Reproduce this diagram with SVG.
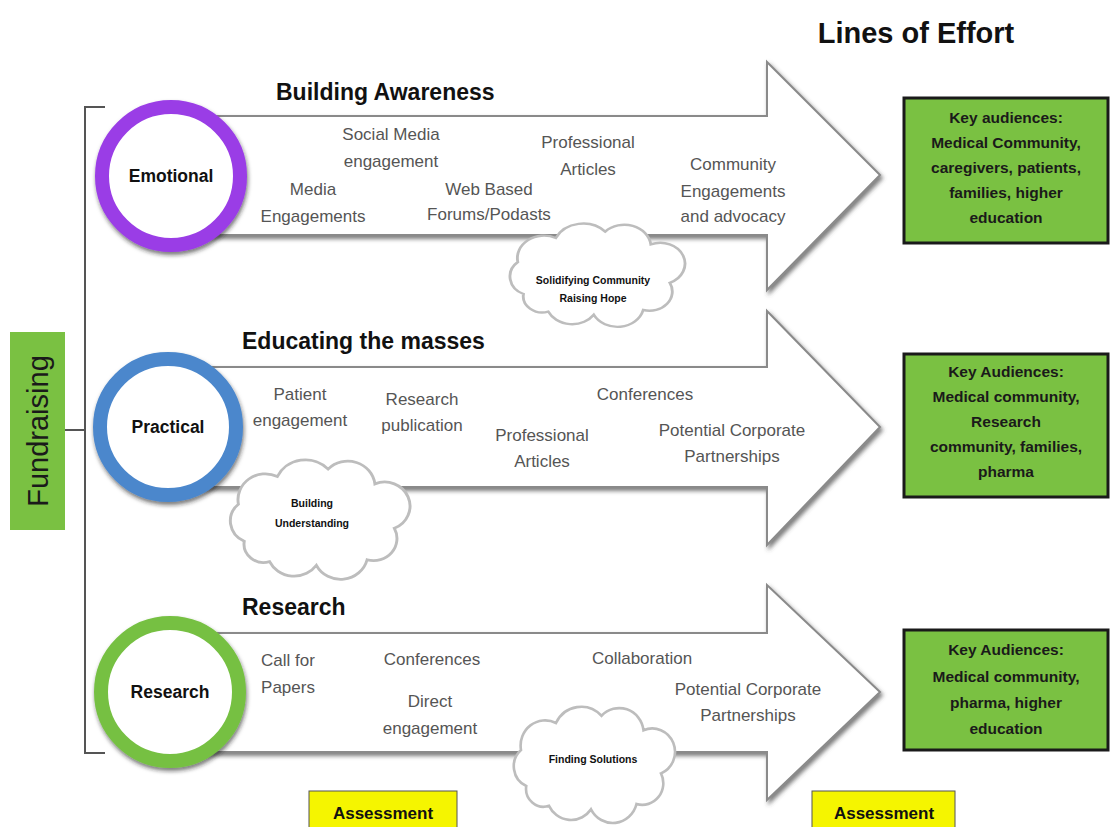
<svg xmlns="http://www.w3.org/2000/svg" width="1112" height="827" viewBox="0 0 1112 827">
<defs>
<filter id="sh" x="-10%" y="-10%" width="125%" height="125%">
<feDropShadow dx="2" dy="3" stdDeviation="2" flood-color="#444" flood-opacity="0.7"/>
</filter>
<filter id="rs" x="-20%" y="-20%" width="140%" height="140%">
<feDropShadow dx="1" dy="3" stdDeviation="2" flood-color="#222" flood-opacity="0.6"/>
</filter>
<path id="cloud" d="M15 45 A12 12 0 0 1 12 25 A14 14 0 0 1 32 10 A16 16 0 0 1 58 6 A14 14 0 0 1 82 14 A13 13 0 0 1 92 38 A12 12 0 0 1 78 55 A14 14 0 0 1 52 58 A14 14 0 0 1 28 56 A10 10 0 0 1 15 45 Z"/>
</defs>
<style>
.arrow{fill:#fff;stroke:#8a8a8a;stroke-width:2;filter:url(#sh)}
.cloud{fill:#fff;stroke:#bdbdbd;stroke-width:1.5}
.ring{fill:#fff;stroke-width:14;filter:url(#rs)}
.head{font-family:"Liberation Sans",Arial,sans-serif;font-weight:bold;font-size:23px;fill:#111}
.item{font-family:"Liberation Sans",Arial,sans-serif;font-size:17px;fill:#555;text-anchor:middle}
.cl{font-family:"Liberation Sans",Arial,sans-serif;font-weight:bold;font-size:10.5px;fill:#111;text-anchor:middle}
.lbl{font-family:"Liberation Sans",Arial,sans-serif;font-weight:bold;font-size:17.5px;fill:#111;text-anchor:middle}
.key{fill:#7ac142;stroke:#1a1a1a;stroke-width:3}
.kt{font-family:"Liberation Sans",Arial,sans-serif;font-weight:bold;font-size:15.5px;fill:#1a1a1a;text-anchor:middle}
.as{fill:#f5f500;stroke:#555;stroke-width:1}
.at{font-family:"Liberation Sans",Arial,sans-serif;font-weight:bold;font-size:17px;fill:#111;text-anchor:middle}
.br{fill:none;stroke:#555;stroke-width:2}
</style>
<rect width="1112" height="827" fill="#fff"/>
<text x="916" y="43" font-family="Liberation Sans,Arial,sans-serif" font-weight="bold" font-size="29" fill="#111" text-anchor="middle">Lines of Effort</text>

<g id="connectors">
<path class="br" d="M105 107 H85 V753 H105 M85 430 H65"/>
</g>

<g id="fundraising">
<rect x="10" y="332" width="55" height="198" fill="#7ac142"/>
<text transform="translate(48 431) rotate(-90)" font-family="Liberation Sans,Arial,sans-serif" font-size="29" fill="#1a1a1a" text-anchor="middle">Fundraising</text>
</g>

<g id="arrow-awareness">
<path class="arrow" d="M170 116 H767 V62 L880 175 L767 290 V235 H170 Z"/>
<text class="head" x="276" y="100">Building Awareness</text>
<text class="item" x="391" y="140">Social Media</text>
<text class="item" x="391" y="167">engagement</text>
<text class="item" x="313" y="195">Media</text>
<text class="item" x="313" y="222">Engagements</text>
<text class="item" x="489" y="195">Web Based</text>
<text class="item" x="489" y="220">Forums/Podasts</text>
<text class="item" x="588" y="148">Professional</text>
<text class="item" x="588" y="175">Articles</text>
<text class="item" x="733" y="170">Community</text>
<text class="item" x="733" y="197">Engagements</text>
<text class="item" x="733" y="222">and advocacy</text>
</g>

<g id="arrow-educating">
<path class="arrow" d="M170 367 H767 V311 L880 427 L767 545 V487 H170 Z"/>
<text class="head" x="242" y="349">Educating the masses</text>
<text class="item" x="300" y="400">Patient</text>
<text class="item" x="300" y="426">engagement</text>
<text class="item" x="422" y="405">Research</text>
<text class="item" x="422" y="431">publication</text>
<text class="item" x="542" y="441">Professional</text>
<text class="item" x="542" y="467">Articles</text>
<text class="item" x="645" y="400">Conferences</text>
<text class="item" x="732" y="436">Potential Corporate</text>
<text class="item" x="732" y="462">Partnerships</text>
</g>

<g id="arrow-research">
<path class="arrow" d="M170 633 H767 V585 L880 692 L767 800 V752 H170 Z"/>
<text class="head" x="242" y="615">Research</text>
<text class="item" x="288" y="666">Call for</text>
<text class="item" x="288" y="693">Papers</text>
<text class="item" x="432" y="665">Conferences</text>
<text class="item" x="430" y="707">Direct</text>
<text class="item" x="430" y="734">engagement</text>
<text class="item" x="642" y="664">Collaboration</text>
<text class="item" x="748" y="695">Potential Corporate</text>
<text class="item" x="748" y="721">Partnerships</text>
</g>

<g id="cloud-hope">
<use href="#cloud" class="cloud" transform="translate(495 222) scale(1.9 1.6)"/>
<text class="cl" x="593" y="284">Solidifying Community</text>
<text class="cl" x="593" y="302">Raising Hope</text>
</g>

<g id="cloud-understanding">
<use href="#cloud" class="cloud" transform="translate(215 458) scale(1.95 1.85)"/>
<text class="cl" x="312" y="507">Building</text>
<text class="cl" x="312" y="527">Understanding</text>
</g>

<g id="cloud-solutions">
<use href="#cloud" class="cloud" transform="translate(500 705) scale(1.75 1.8)"/>
<text class="cl" x="593" y="763">Finding Solutions</text>
</g>

<g id="node-emotional">
<circle class="ring" cx="171" cy="176" r="69" stroke="#9a3de6"/>
<text class="lbl" x="171" y="182">Emotional</text>
</g>
<g id="node-practical">
<circle class="ring" cx="168" cy="427" r="68" stroke="#4b87cc"/>
<text class="lbl" x="168" y="433">Practical</text>
</g>
<g id="node-research">
<circle class="ring" cx="170" cy="692" r="69" stroke="#76c043"/>
<text class="lbl" x="170" y="698">Research</text>
</g>

<g id="key-1">
<rect class="key" x="904" y="98" width="204" height="145"/>
<text class="kt" x="1006" y="123">Key audiences:</text>
<text class="kt" x="1006" y="148">Medical Community,</text>
<text class="kt" x="1006" y="173">caregivers, patients,</text>
<text class="kt" x="1006" y="198">families, higher</text>
<text class="kt" x="1006" y="223">education</text>
</g>
<g id="key-2">
<rect class="key" x="904" y="354" width="204" height="143"/>
<text class="kt" x="1006" y="377">Key Audiences:</text>
<text class="kt" x="1006" y="402">Medical community,</text>
<text class="kt" x="1006" y="427">Research</text>
<text class="kt" x="1006" y="452">community, families,</text>
<text class="kt" x="1006" y="477">pharma</text>
</g>
<g id="key-3">
<rect class="key" x="904" y="630" width="204" height="120"/>
<text class="kt" x="1006" y="655">Key Audiences:</text>
<text class="kt" x="1006" y="682">Medical community,</text>
<text class="kt" x="1006" y="708">pharma, higher</text>
<text class="kt" x="1006" y="734">education</text>
</g>

<g id="assessment-1">
<rect class="as" x="309" y="791" width="148" height="40"/>
<text class="at" x="383" y="819">Assessment</text>
</g>
<g id="assessment-2">
<rect class="as" x="812" y="791" width="143" height="40"/>
<text class="at" x="884" y="819">Assessment</text>
</g>
</svg>
